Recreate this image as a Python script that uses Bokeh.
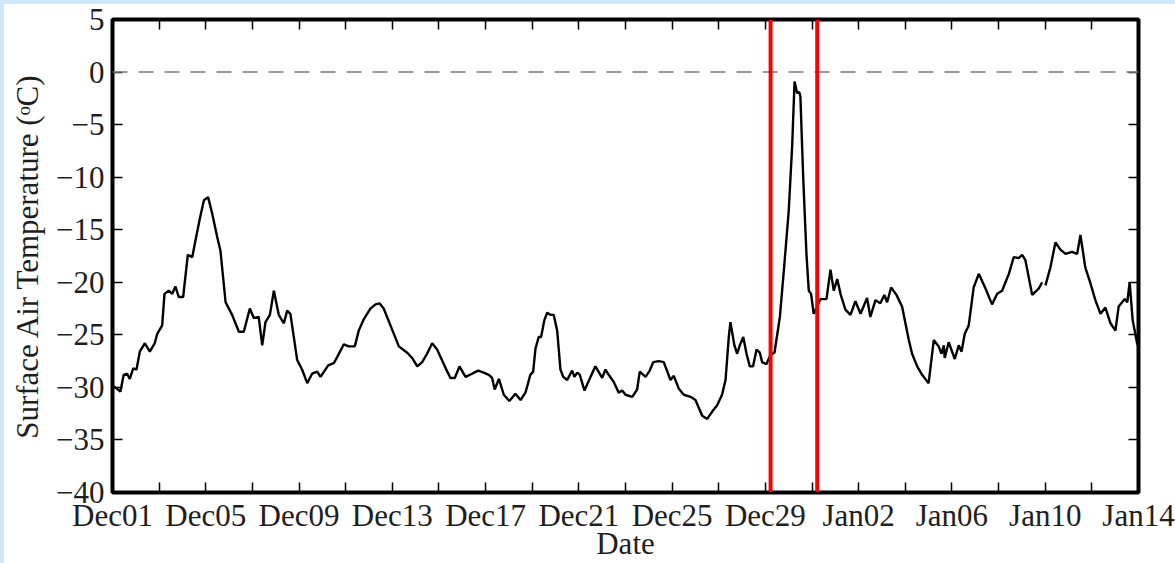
import numpy as np
from bokeh.plotting import figure
from bokeh.models import (Range1d, Span, FixedTicker, DatetimeTickFormatter,
                          DatetimeAxis, LinearAxis, CustomJSTickFormatter, InlineStyleSheet)
from bokeh.embed import file_html
from bokeh.resources import INLINE

# Surface air temperature record, starting at midnight on Dec 01
START = "2011-12-01T00:00"

# time since START, in days
day_offset = [
    0.06, 0.34, 0.48, 0.63, 0.74, 0.89, 1.03, 1.17, 1.39, 1.60, 1.81, 1.92, 2.13, 2.23,
    2.41, 2.56, 2.70, 2.84, 3.03, 3.23, 3.42, 3.56, 3.74, 3.92, 4.10, 4.28, 4.49, 4.63,
    4.85, 5.13, 5.42, 5.63, 5.89, 6.06, 6.27, 6.42, 6.56, 6.75, 6.92, 7.13, 7.35, 7.49,
    7.63, 7.92, 8.13, 8.35, 8.56, 8.78, 8.92, 9.25, 9.49, 9.64, 9.92, 10.13, 10.39, 10.56,
    10.78, 11.06, 11.28, 11.45, 11.63, 11.92, 12.28, 12.64, 12.85, 13.07, 13.28, 13.49,
    13.71, 13.92, 14.25, 14.49, 14.68, 14.88, 15.14, 15.42, 15.68, 15.92, 16.14, 16.28,
    16.39, 16.57, 16.78, 17.02, 17.28, 17.50, 17.71, 17.92, 18.04, 18.14, 18.28, 18.38,
    18.52, 18.64, 18.78, 18.92, 19.07, 19.21, 19.33, 19.50, 19.71, 19.81, 19.93, 20.04,
    20.24, 20.50, 20.71, 21.00, 21.14, 21.28, 21.50, 21.71, 21.86, 22.00, 22.29, 22.50,
    22.61, 22.86, 23.04, 23.19, 23.43, 23.64, 23.93, 24.07, 24.28, 24.50, 24.79, 25.00,
    25.29, 25.50, 25.72, 25.93, 26.14, 26.29, 26.43, 26.50, 26.67, 26.79, 26.90, 27.05,
    27.19, 27.33, 27.47, 27.62, 27.76, 27.86, 28.04, 28.22, 28.39, 28.62, 28.79, 29.00,
    29.15, 29.25, 29.36, 29.45, 29.50, 29.62, 29.76, 29.86, 29.96, 30.07, 30.22, 30.36,
    30.62, 30.79, 30.93, 31.08, 31.22, 31.43, 31.65, 31.86, 32.08, 32.36, 32.50, 32.72,
    32.93, 33.10, 33.22, 33.39, 33.62, 33.86, 34.15, 34.29, 34.51, 34.72, 34.96, 35.00,
    35.22, 35.43, 35.55, 35.65, 35.69, 35.86, 36.12, 36.29, 36.41, 36.55, 36.72, 36.93,
    37.15, 37.44, 37.72, 37.94, 38.15, 38.44, 38.65, 38.86, 39.01, 39.15, 39.44, 39.72,
    39.87, 39.94, 40.01, 40.22, 40.44, 40.65, 40.87, 41.15, 41.37, 41.51, 41.72, 41.94,
    42.15, 42.37, 42.58, 42.80, 43.01, 43.15, 43.41, 43.52, 43.62, 43.75, 43.94, 44.00,
]

# surface air temperature (deg C); NaN marks a short data gap
temp_c = [
    -29.9, -30.4, -28.8, -28.7, -29.2, -28.2, -28.3, -26.6, -25.8, -26.6, -25.8, -24.9, -24.1, -21.1,
    -20.8, -21.1, -20.4, -21.4, -21.4, -17.4, -17.6, -16.0, -14.0, -12.2, -11.9, -13.5, -15.7, -17.0,
    -21.9, -23.1, -24.7, -24.7, -22.5, -23.4, -23.3, -26.0, -23.8, -23.1, -20.8, -23.1, -23.9, -22.7,
    -23.0, -27.4, -28.3, -29.6, -28.7, -28.5, -29.0, -27.9, -27.7, -27.1, -25.9, -26.1, -26.1, -24.6,
    -23.5, -22.5, -22.1, -22.0, -22.5, -24.1, -26.1, -26.7, -27.2, -28.0, -27.6, -26.8,
    -25.8, -26.4, -28.0, -29.1, -29.1, -28.0, -29.0, -28.7, -28.4, -28.6, -28.8, -29.1,
    -30.2, -29.2, -30.7, -31.3, -30.6, -31.2, -30.5, -28.8, -28.5, -26.3, -25.2, -25.2,
    -23.6, -22.9, -23.1, -23.1, -24.6, -28.3, -29.0, -29.3, -28.4, -29.0, -28.6, -28.8,
    -30.3, -29.0, -28.0, -29.1, -28.3, -28.8, -29.5, -30.5, -30.3, -30.7, -30.9, -30.2,
    -28.5, -29.0, -28.4, -27.6, -27.5, -27.6, -29.3, -28.9, -30.1, -30.7, -30.9, -31.2,
    -32.7, -33.0, -32.3, -31.7, -30.7, -29.3, -25.2, -23.8, -26.0, -26.8, -26.0, -25.2,
    -26.8, -28.0, -28.0, -26.4, -26.7, -27.6, -27.8, -26.9, -26.7, -23.3, -18.9, -13.2,
    -6.9, -0.9, -2.0, -1.9, -2.3, -10.0, -17.3, -20.8, -21.1, -23.0, -22.3, -21.6,
    -21.6, -18.8, -20.8, -19.7, -21.1, -22.6, -23.1, -21.8, -23.0, -21.5, -23.3, -21.7,
    -22.0, -21.2, -21.9, -20.5, -21.2, -22.3, -25.5, -26.8, -28.0, -28.8, -29.5, -29.6,
    -25.5, -26.1, -26.8, -26.0, -27.2, -25.7, -27.3, -26.0, -26.6, -24.9, -24.1, -20.5,
    -19.2, -20.6, -22.1, -21.1, -20.8, -19.2, -17.6, -17.7, -17.4, -17.9, -21.2, -20.6,
    -20.0, float("nan"), -20.3, -18.6, -16.2, -16.9, -17.3, -17.1, -17.3, -15.5, -18.6, -20.1,
    -21.7, -23.0, -22.4, -23.9, -24.6, -22.3, -21.6, -21.9, -20.0, -23.6, -25.8, -26.2,
]

# start and end of the highlighted warm-event window
window_bounds = ["2011-12-29T05:20", "2011-12-31T05:20"]

# axis ticks
x_label_dates = ["2011-12-01", "2011-12-05", "2011-12-09", "2011-12-13", "2011-12-17",
                 "2011-12-21", "2011-12-25", "2011-12-29", "2012-01-02", "2012-01-06",
                 "2012-01-10", "2012-01-14"]
x_minor_dates = ["2011-12-03", "2011-12-07", "2011-12-11", "2011-12-15", "2011-12-19",
                 "2011-12-23", "2011-12-27", "2011-12-31", "2012-01-04", "2012-01-08",
                 "2012-01-12"]
y_ticks = [-40, -35, -30, -25, -20, -15, -10, -5, 0, 5]


def to_ms(s):
    return float(np.datetime64(s, "ms").astype("int64"))


DAY_MS = 86400000.0
t0 = to_ms(START)
x_ms = [t0 + d * DAY_MS for d in day_offset]
x_major = [to_ms(s) for s in x_label_dates]
x_minor = [to_ms(s) for s in x_minor_dates]

FONT = "Liberation Serif"
FONT_SIZE = "31px"
TEXT_COLOR = "#1e1e1e"
PAGE_BLUE = "#cde8fb"

# thin page-coloured strips along the top and left edges of the plot element
edge_css = InlineStyleSheet(css=f"""
:host::before {{
  content: ""; position: absolute; left: 0; top: 0; width: 100%; height: 4px;
  background: {PAGE_BLUE}; z-index: 100; pointer-events: none;
}}
:host::after {{
  content: ""; position: absolute; left: 0; top: 0; width: 4px; height: 100%;
  background: {PAGE_BLUE}; z-index: 100; pointer-events: none;
}}
""")

p = figure(width=1175, height=563, x_axis_type="datetime",
           x_range=Range1d(x_major[0], x_major[-1]), y_range=Range1d(-40, 5),
           output_backend="svg", toolbar_location=None,
           min_border_left=112, min_border_right=37, min_border_top=19,
           min_border_bottom=69, background_fill_color="white",
           border_fill_color="white", stylesheets=[edge_css])
p.outline_line_color = "black"
p.outline_line_width = 4
p.grid.visible = False

x_ticker = FixedTicker(ticks=x_major, minor_ticks=x_minor)
y_ticker = FixedTicker(ticks=y_ticks, minor_ticks=[])
date_fmt = DatetimeTickFormatter(days="%b%d", months="%b%d", years="%b%d",
                                 hours="%b%d", minutes="%b%d")
blank = CustomJSTickFormatter(code="return '';")


def style_axis(ax):
    ax.axis_line_color = None
    ax.major_tick_in = 10
    ax.major_tick_out = 0
    ax.minor_tick_in = 10
    ax.minor_tick_out = 0
    ax.major_tick_line_width = 1.5
    ax.minor_tick_line_width = 1.5
    ax.major_tick_line_color = "black"
    ax.minor_tick_line_color = "black"
    ax.major_label_text_font = FONT
    ax.major_label_text_font_size = FONT_SIZE
    ax.major_label_text_color = TEXT_COLOR
    ax.axis_label_text_font = FONT
    ax.axis_label_text_font_size = FONT_SIZE
    ax.axis_label_text_font_style = "normal"
    ax.axis_label_text_color = TEXT_COLOR


xa = p.xaxis[0]
xa.ticker = x_ticker
xa.formatter = date_fmt
xa.axis_label = "Date"
xa.major_label_standoff = 5
xa.axis_label_standoff = -10
style_axis(xa)

ya = p.yaxis[0]
ya.ticker = y_ticker
ya.major_label_overrides = {v: str(v).replace("-", "\u2212") for v in y_ticks}
ya.axis_label = "Surface Air Temperature (\u1d52C)"
ya.major_label_standoff = 8
ya.axis_label_standoff = 8
style_axis(ya)

top = DatetimeAxis(ticker=x_ticker, formatter=blank)
style_axis(top)
top.major_label_standoff = 0
p.add_layout(top, "above")

right = LinearAxis(ticker=y_ticker, formatter=blank)
style_axis(right)
right.major_label_standoff = 0
p.add_layout(right, "right")

# freezing line
p.add_layout(Span(location=0, dimension="width", line_color="#7a7a7a",
                  line_width=1.6, line_dash="15 11"))

# temperature trace
p.line(x_ms, temp_c, line_color="black", line_width=2.4)

# event window boundaries
for b in window_bounds:
    p.add_layout(Span(location=to_ms(b), dimension="height",
                      line_color="#ff0000", line_width=4))

open("out.html", "w").write(file_html(p, INLINE))
